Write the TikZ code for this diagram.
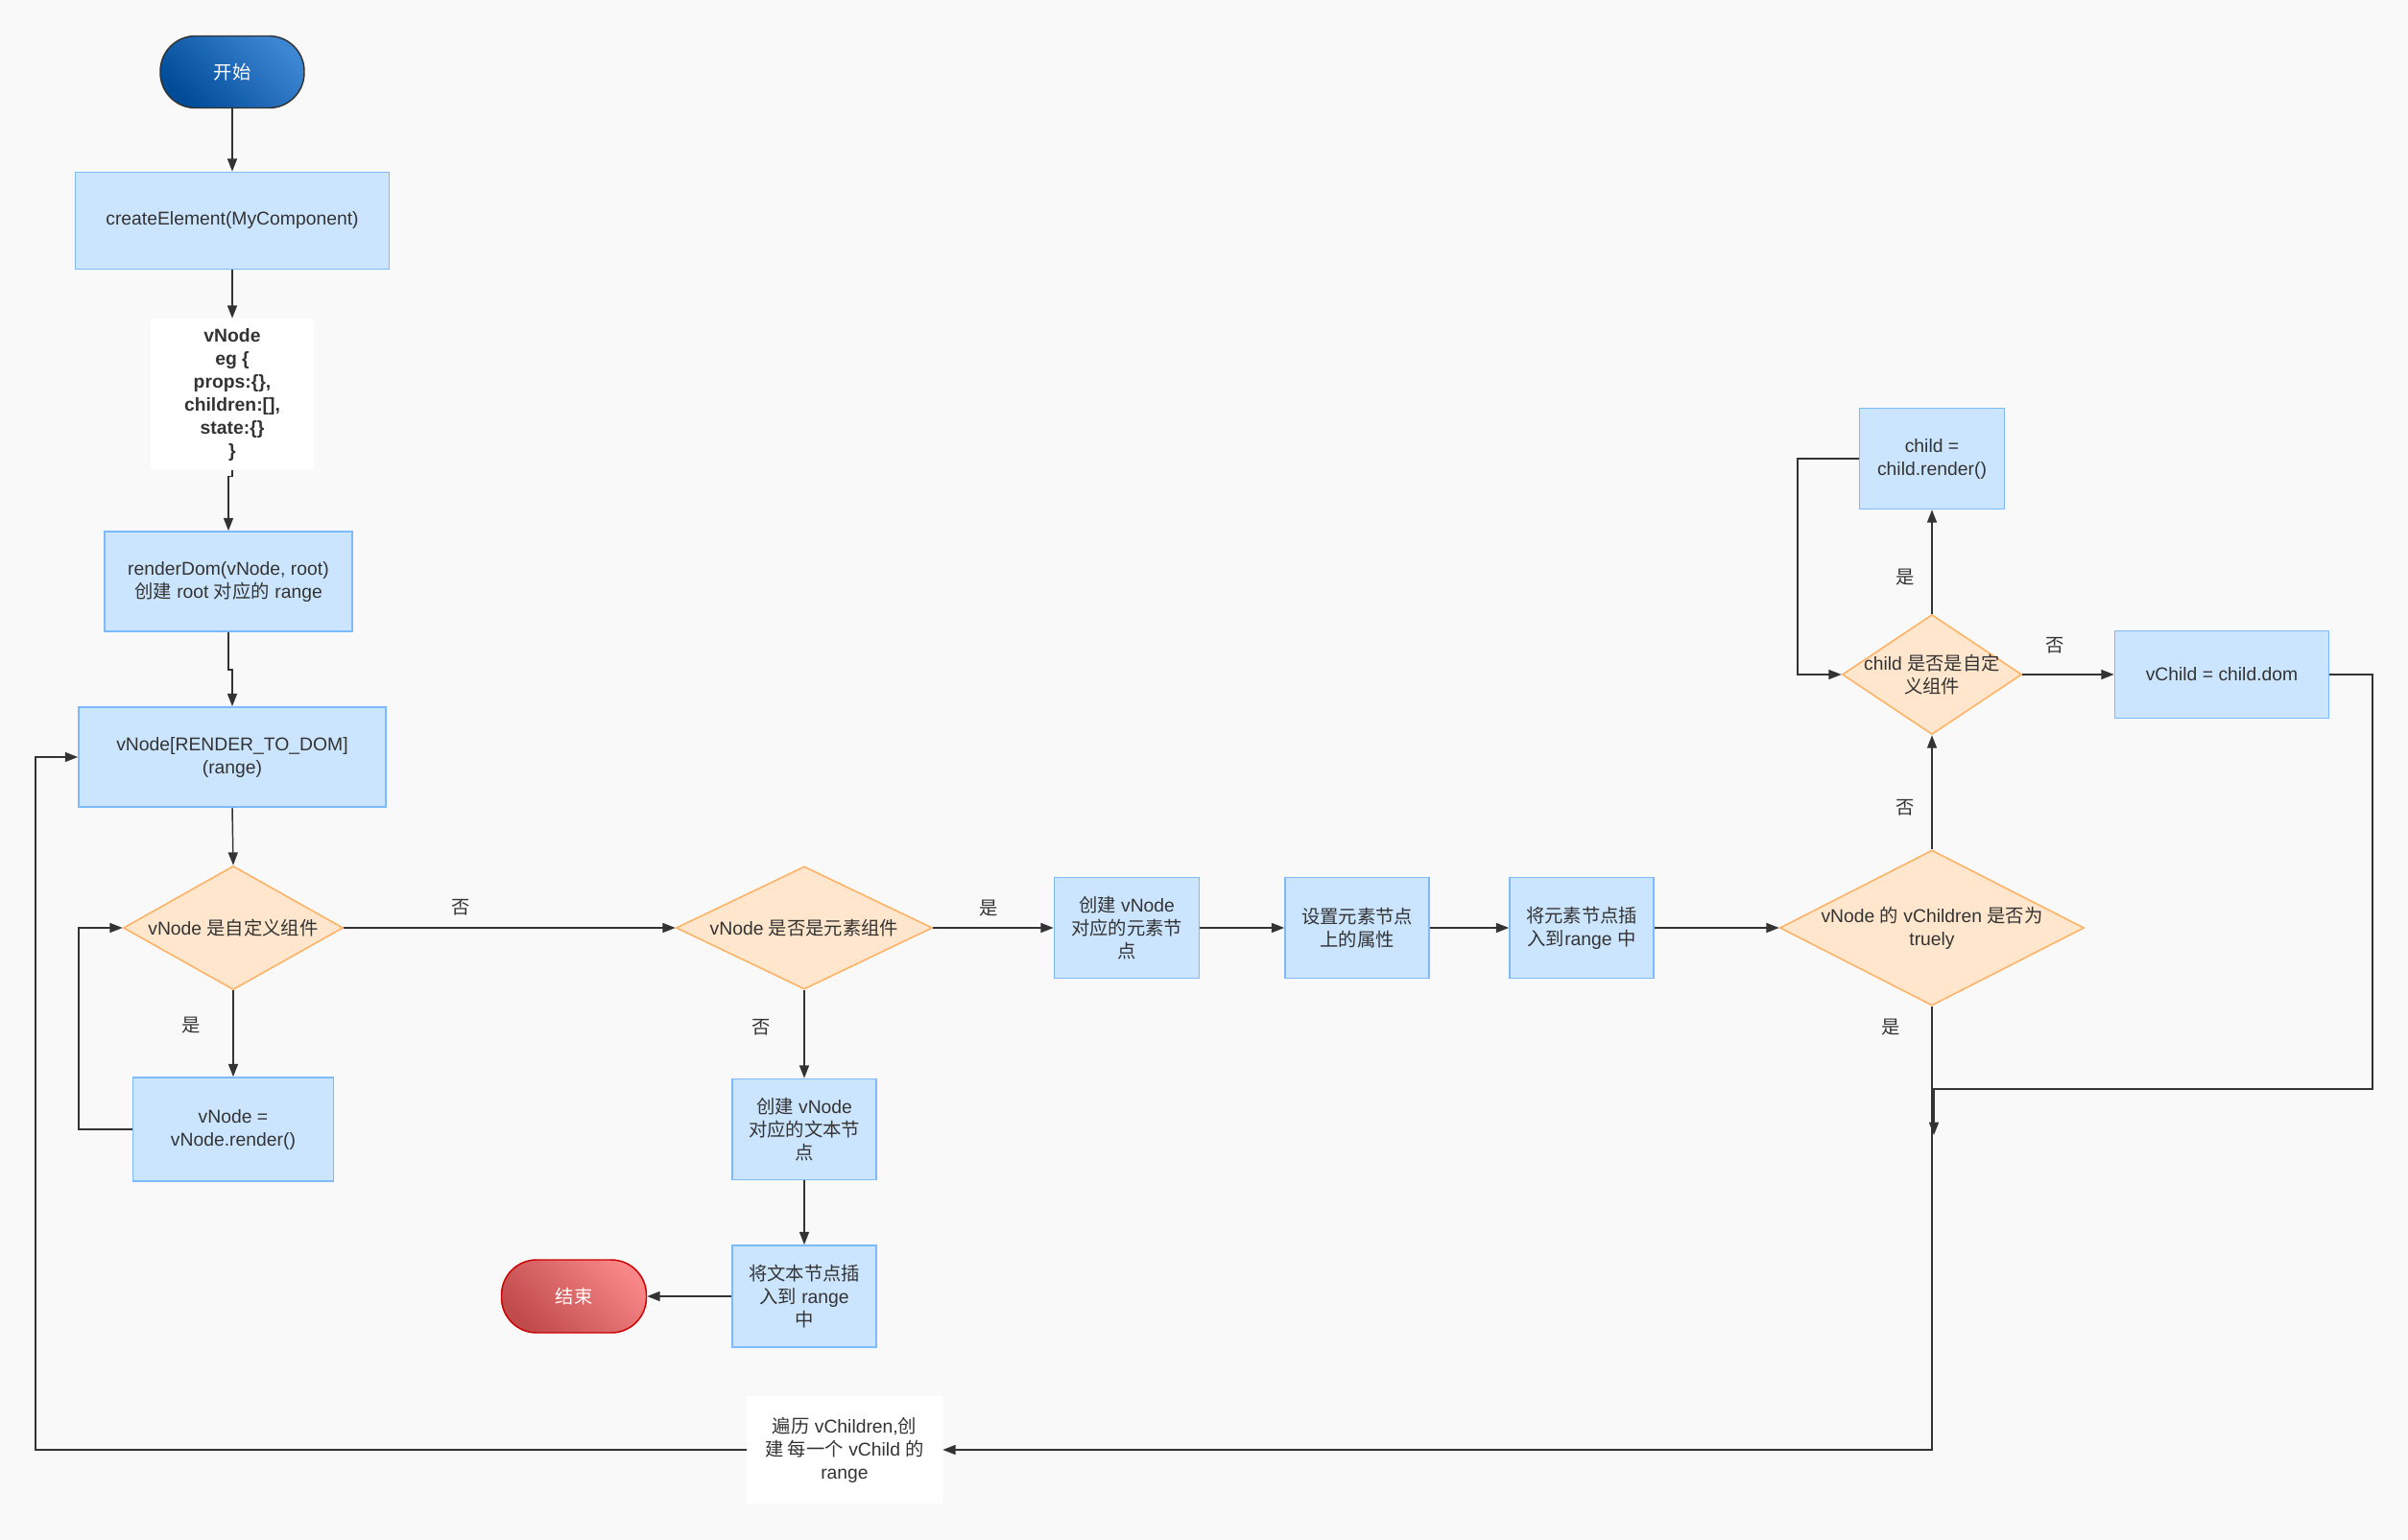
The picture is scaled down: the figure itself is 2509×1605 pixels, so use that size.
\documentclass[tikz,border=0pt]{standalone}
\usepackage{fontspec}
\setmainfont{Liberation Sans}
\newfontfamily\cjkf{Noto Sans CJK SC}
\newcommand\zh[1]{{\cjkf #1}}
\usetikzlibrary{shapes.geometric,arrows.meta}
\definecolor{bgc}{HTML}{F9F9F9}
\definecolor{boxfill}{HTML}{CCE5FF}
\definecolor{boxline}{HTML}{7DBAFB}
\definecolor{diafill}{HTML}{FFE6CC}
\definecolor{dialine}{HTML}{FFB366}
\definecolor{txt}{HTML}{333333}
\definecolor{linec}{HTML}{333333}
\definecolor{stdark}{HTML}{004C99}
\definecolor{stlight}{HTML}{3D86D3}
\definecolor{endark}{HTML}{BF4B4B}
\definecolor{enlight}{HTML}{F88686}
\definecolor{enline}{HTML}{CC0000}
\tikzset{
  sz/.style 2 args={minimum width=#1*0.75pt, minimum height=#2*0.75pt},
  box/.style={shape=rectangle, draw=boxline, fill=boxfill, line width=1.2pt, inner sep=0pt, align=center, text=txt},
  plainbox/.style={shape=rectangle, fill=white, draw=none, inner sep=0pt, align=center, text=txt},
  dia/.style={shape=diamond, draw=dialine, fill=diafill, line width=1.2pt, inner sep=0pt},
  dlab/.style={align=center, text=txt, inner sep=0pt},
  term/.style={shape=rectangle, rounded corners=27.5pt, line width=1.1pt, inner sep=0pt, align=center, text=white},
  elab/.style={text=txt, inner sep=0pt},
  arr/.style={draw=linec, line width=1.1pt, -{Triangle[length=10pt,width=7.5pt]}},
  every node/.append style={font=\fontsize{14.5pt}{18pt}\selectfont},
  every label/.append style={font=\fontsize{14.5pt}{18pt}\selectfont}
}
\begin{document}
\begin{tikzpicture}[x=0.75pt,y=-0.75pt]
\useasboundingbox (0,0) rectangle (2509,1605);
\fill[bgc] (0,0) rectangle (2509,1605);

% left column
\node[term, sz={150}{75}, draw=txt, top color=stlight, bottom color=stdark, shading angle=-45] (st) at (242,75) {\zh{开始}};
\node[box, sz={327}{101}] (ce) at (242,230) {createElement(MyComponent)};
\node[plainbox, sz={170}{158}, font=\fontsize{14.5pt}{18pt}\selectfont\bfseries] (vn) at (242,411) {vNode\\eg \{\\props:\{\},\\children:[],\\state:\{\}\\\}};
\node[box, sz={258}{104}] (rd) at (238,606) {renderDom(vNode, root)\\\zh{创建} root \zh{对应的} range};
\node[box, sz={320}{104}] (rtd) at (242,789) {vNode[RENDER\_TO\_DOM]\\(range)};
\node[dia, sz={229}{129}, label={[dlab]center:{vNode \zh{是自定义组件}}}] (d1) at (243,967) {};
\node[box, sz={209}{108}] (vr) at (243,1177) {vNode =\\vNode.render()};

% middle column
\node[dia, sz={267}{128}, label={[dlab]center:{vNode \zh{是否是元素组件}}}] (d2) at (838,967) {};
\node[box, sz={150}{105}] (tn) at (838,1177) {\zh{创建} vNode\\\zh{对应的文本节}\\\zh{点}};
\node[box, sz={150}{106}] (it) at (838,1351) {\zh{将文本节点插}\\\zh{入到} range\\\zh{中}};
\node[term, sz={151}{76}, draw=enline, top color=enlight, bottom color=endark, shading angle=-45] (fin) at (598,1351) {\zh{结束}};
\node[plainbox, sz={204}{112}] (tr) at (880,1511) {\zh{遍历} vChildren,\zh{创}\\\zh{建 每一个} vChild \zh{的}\\range};

% element row
\node[box, sz={151}{105}] (el) at (1174,967) {\zh{创建} vNode\\\zh{对应的元素节}\\\zh{点}};
\node[box, sz={150}{105}] (attr) at (1414,967) {\zh{设置元素节点}\\\zh{上的属性}};
\node[box, sz={150}{105}] (ie) at (1648,967) {\zh{将元素节点插}\\\zh{入到}range \zh{中}};
\node[dia, sz={317}{162}, label={[dlab]center:{vNode \zh{的} vChildren \zh{是否为}\\truely}}] (d4) at (2013,967) {};

% right column
\node[dia, sz={187}{125}, label={[dlab]center:{child \zh{是否是自定}\\\zh{义组件}}}] (d3) at (2013,703) {};
\node[box, sz={151}{105}] (ch) at (2013,478) {child =\\child.render()};
\node[box, sz={223}{91}] (vc) at (2315,703) {vChild = child.dom};

% connectors
\draw[arr] (st.south) -- (ce.north);
\draw[arr] (ce.south) -- (vn.north);
\draw[arr] (vn.south) -- ++(0,6) -| (rd.north);
\draw[arr] (rd.south) -- ++(0,39) -| (rtd.north);
\draw[arr] (rtd.south) -- (d1.north);
\draw[arr] (d1.south) -- (vr.north);
\draw[arr] (vr.west) -- (82,1177) |- (d1.west);
\draw[arr] (d1.east) -- (d2.west);
\draw[arr] (d2.south) -- (tn.north);
\draw[arr] (tn.south) -- (it.north);
\draw[arr] (it.west) -- (fin.east);
\draw[arr] (d2.east) -- (el.west);
\draw[arr] (el.east) -- (attr.west);
\draw[arr] (attr.east) -- (ie.west);
\draw[arr] (ie.east) -- (d4.west);
\draw[arr] (d4.north) -- (d3.south);
\draw[arr] (d3.north) -- (ch.south);
\draw[arr] (ch.west) -- (1873,478) |- (d3.west);
\draw[arr] (d3.east) -- (vc.west);
\coordinate (jn) at (2015,1135);
\coordinate (jnend) at (2015,1183);
\draw[arr] (vc.east) -- (2472,703) |- (jn) -- (jnend);
\draw[arr] (d4.south) -- (2013,1511) -- (tr.east);
\draw[arr] (tr.west) -- (37,1511) |- (rtd.west);

% edge labels
\node[elab] (l1) at (480,946) {\zh{否}};
\node[elab] (l2) at (199,1069) {\zh{是}};
\node[elab] (l3) at (793,1071) {\zh{否}};
\node[elab] (l4) at (1030,947) {\zh{是}};
\node[elab] (l5) at (1970,1071) {\zh{是}};
\node[elab] (l6) at (1985,842) {\zh{否}};
\node[elab] (l7) at (1985,602) {\zh{是}};
\node[elab] (l8) at (2141,673) {\zh{否}};
\end{tikzpicture}
\end{document}
